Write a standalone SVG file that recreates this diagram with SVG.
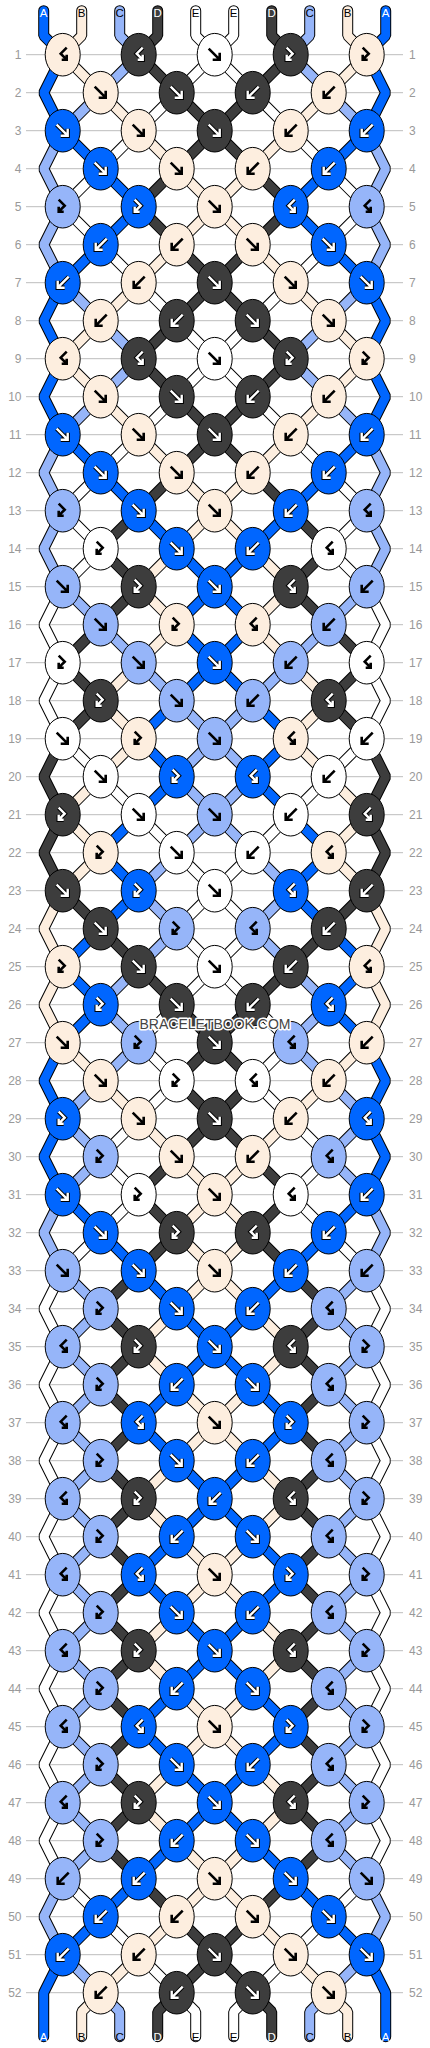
<svg xmlns="http://www.w3.org/2000/svg" xmlns:xlink="http://www.w3.org/1999/xlink" width="430" height="2048" viewBox="0 0 430 2048">
<style>
.A{fill:#0066ff}.B{fill:#fdeedf}.C{fill:#96b5f9}.D{fill:#3d3d3d}.E{fill:#ffffff}
.s{fill:none;stroke-linejoin:bevel;stroke-linecap:round}
.o{stroke:#000;stroke-width:11}
.sA{stroke:#0066ff;stroke-width:9}.sB{stroke:#fdeedf;stroke-width:9}.sC{stroke:#96b5f9;stroke-width:9}.sD{stroke:#3d3d3d;stroke-width:9}.sE{stroke:#ffffff;stroke-width:9}
.ab{fill:none;stroke:#000;stroke-width:2.6}
.ao{fill:none;stroke:#000;stroke-width:4.4}
.aw{fill:none;stroke:#fff;stroke-width:2.4}
.grid{fill:none;stroke:#bdbdbd;stroke-width:1}
.rn{font-family:"Liberation Sans",Arial,sans-serif;font-size:12px;fill:#999}
.sl{font-family:"Liberation Sans",Arial,sans-serif;font-size:11.5px;text-anchor:middle;fill:#000}
.sl .wt{fill:#fff}
.wm{font-family:"Liberation Sans",Arial,sans-serif;font-size:14px;text-anchor:middle;fill:#444;stroke:#fff;stroke-width:3;paint-order:stroke;stroke-linejoin:round}
</style>
<defs>
<ellipse id="e" rx="17.5" ry="21.3" stroke="#000" stroke-width="1"/>
<path id="gf" d="M-6,-6L4.5,4.5M-2,5H5V-2"/>
<path id="gb" d="M6,-6L-4.5,4.5M2,5H-5V-2"/>
<path id="gfb" d="M-4,-7L2,-1L-4,5M-4,0V5H1"/>
<path id="gbf" d="M4,-7L-2,-1L4,5M4,0V5H-1"/>
<g id="kf"><use href="#gf" class="ab"/></g>
<g id="kb"><use href="#gb" class="ab"/></g>
<g id="kfb"><use href="#gfb" class="ab"/></g>
<g id="kbf"><use href="#gbf" class="ab"/></g>
<g id="wf"><use href="#gf" class="ao"/><use href="#gf" class="aw"/></g>
<g id="wb"><use href="#gb" class="ao"/><use href="#gb" class="aw"/></g>
<g id="wfb"><use href="#gfb" class="ao"/><use href="#gfb" class="aw"/></g>
<g id="wbf"><use href="#gbf" class="ao"/><use href="#gbf" class="aw"/></g>
<path id="s0" class="s" d="M0,-6V19L19,38l-19,38 19,38 38,38 38,38 -38,38 -38,38 -19,38 19,38 -19,38 19,38 38,38 38,38 38,38 38,38 38,38 -38,38 -38,38 -38,38 38,38 -38,38 -38,38 38,38 -38,38 -38,38 38,38 -38,38 -19,38 19,38 -19,38 19,38 38,38 38,38 38,38 38,38 38,38 38,38 -38,38 -38,38 -38,38 -38,38 38,38 38,38 38,38 38,38 -38,38 -38,38 -38,38 -38,38 -38,38 -38,38 -19,38V2020"/>
<path id="s1" class="s" d="M38,-6V19L19,38l38,38 38,38 38,38 38,38 38,38 38,38 38,38 38,38 -38,38 -38,38 -38,38 -38,38 -38,38 -38,38 38,38 -38,38 -38,38 38,38 -38,38 -38,38 38,38 -38,38 -19,38 19,38 -19,38 19,38 38,38 38,38 38,38 38,38 38,38 -38,38 -38,38 -38,38 38,38 38,38 38,38 38,38 -38,38 -38,38 -38,38 -38,38 38,38 38,38 38,38 38,38 -38,38 -38,38 -38,38 -38,38 -38,38 -19,19V2020"/>
<path id="s2" class="s" d="M76,-6V19L95,38l-38,38 -38,38 -19,38 19,38 -19,38 19,38 38,38 38,38 -38,38 -38,38 -19,38 19,38 -19,38 19,38 38,38 38,38 38,38 38,38 38,38 -38,38 -38,38 -38,38 38,38 -38,38 -38,38 38,38 -38,38 -38,38 38,38 -38,38 -19,38 19,38 38,38 -38,38 38,38 -38,38 38,38 -38,38 38,38 -38,38 38,38 -38,38 38,38 -38,38 38,38 -38,38 38,38 -38,38 -19,38 19,38 38,38 19,19V2020"/>
<path id="s3" class="s" d="M114,-6V19L95,38l38,38 38,38 38,38 38,38 -38,38 -38,38 -38,38 -38,38 38,38 38,38 38,38 38,38 38,38 -38,38 38,38 38,38 -38,38 38,38 19,38 -19,38 19,38 -19,38 -38,38 -38,38 -38,38 -38,38 -38,38 38,38 38,38 38,38 -38,38 38,38 38,38 -38,38 38,38 -38,38 38,38 -38,38 38,38 -38,38 38,38 -38,38 38,38 -38,38 38,38 -38,38 38,38 -38,38 -38,38 -38,38 -38,38 -19,19V2020"/>
<path id="s4" class="s" d="M152,-6V19L171,38l38,38 38,38 38,38 38,38 -38,38 -38,38 -38,38 -38,38 -38,38 -38,38 -38,38 -38,38 38,38 -38,38 -19,38 19,38 -19,38 19,38 38,38 38,38 38,38 38,38 38,38 -38,38 -38,38 -38,38 38,38 -38,38 -38,38 38,38 -38,38 -38,38 -19,38 19,38 -19,38 19,38 -19,38 19,38 -19,38 19,38 -19,38 19,38 -19,38 19,38 -19,38 19,38 -19,38 19,38 38,38 38,38 38,38 19,19V2020"/>
</defs>
<rect x="0" y="0" width="430" height="2048" fill="#fff"/>
<path class="grid" d="M26,54.7h377m-377,38h377m-377,38h377m-377,38h377m-377,38h377m-377,38h377m-377,38h377m-377,38h377m-377,38h377m-377,38h377m-377,38h377m-377,38h377m-377,38h377m-377,38h377m-377,38h377m-377,38h377m-377,38h377m-377,38h377m-377,38h377m-377,38h377m-377,38h377m-377,38h377m-377,38h377m-377,38h377m-377,38h377m-377,38h377m-377,38h377m-377,38h377m-377,38h377m-377,38h377m-377,38h377m-377,38h377m-377,38h377m-377,38h377m-377,38h377m-377,38h377m-377,38h377m-377,38h377m-377,38h377m-377,38h377m-377,38h377m-377,38h377m-377,38h377m-377,38h377m-377,38h377m-377,38h377m-377,38h377m-377,38h377m-377,38h377m-377,38h377m-377,38h377m-377,38h377"/>
<g id="row-numbers">
<text class="rn" text-anchor="end"><tspan x="21.5" y="59">1</tspan><tspan x="21.5" y="97">2</tspan><tspan x="21.5" y="135">3</tspan><tspan x="21.5" y="173">4</tspan><tspan x="21.5" y="211">5</tspan><tspan x="21.5" y="249">6</tspan><tspan x="21.5" y="287">7</tspan><tspan x="21.5" y="325">8</tspan><tspan x="21.5" y="363">9</tspan><tspan x="21.5" y="401">10</tspan><tspan x="21.5" y="439">11</tspan><tspan x="21.5" y="477">12</tspan><tspan x="21.5" y="515">13</tspan><tspan x="21.5" y="553">14</tspan><tspan x="21.5" y="591">15</tspan><tspan x="21.5" y="629">16</tspan><tspan x="21.5" y="667">17</tspan><tspan x="21.5" y="705">18</tspan><tspan x="21.5" y="743">19</tspan><tspan x="21.5" y="781">20</tspan><tspan x="21.5" y="819">21</tspan><tspan x="21.5" y="857">22</tspan><tspan x="21.5" y="895">23</tspan><tspan x="21.5" y="933">24</tspan><tspan x="21.5" y="971">25</tspan><tspan x="21.5" y="1009">26</tspan><tspan x="21.5" y="1047">27</tspan><tspan x="21.5" y="1085">28</tspan><tspan x="21.5" y="1123">29</tspan><tspan x="21.5" y="1161">30</tspan><tspan x="21.5" y="1199">31</tspan><tspan x="21.5" y="1237">32</tspan><tspan x="21.5" y="1275">33</tspan><tspan x="21.5" y="1313">34</tspan><tspan x="21.5" y="1351">35</tspan><tspan x="21.5" y="1389">36</tspan><tspan x="21.5" y="1427">37</tspan><tspan x="21.5" y="1465">38</tspan><tspan x="21.5" y="1503">39</tspan><tspan x="21.5" y="1541">40</tspan><tspan x="21.5" y="1579">41</tspan><tspan x="21.5" y="1617">42</tspan><tspan x="21.5" y="1655">43</tspan><tspan x="21.5" y="1693">44</tspan><tspan x="21.5" y="1731">45</tspan><tspan x="21.5" y="1769">46</tspan><tspan x="21.5" y="1807">47</tspan><tspan x="21.5" y="1845">48</tspan><tspan x="21.5" y="1883">49</tspan><tspan x="21.5" y="1921">50</tspan><tspan x="21.5" y="1959">51</tspan><tspan x="21.5" y="1997">52</tspan></text>
<text class="rn"><tspan x="409" y="59">1</tspan><tspan x="409" y="97">2</tspan><tspan x="409" y="135">3</tspan><tspan x="409" y="173">4</tspan><tspan x="409" y="211">5</tspan><tspan x="409" y="249">6</tspan><tspan x="409" y="287">7</tspan><tspan x="409" y="325">8</tspan><tspan x="409" y="363">9</tspan><tspan x="409" y="401">10</tspan><tspan x="409" y="439">11</tspan><tspan x="409" y="477">12</tspan><tspan x="409" y="515">13</tspan><tspan x="409" y="553">14</tspan><tspan x="409" y="591">15</tspan><tspan x="409" y="629">16</tspan><tspan x="409" y="667">17</tspan><tspan x="409" y="705">18</tspan><tspan x="409" y="743">19</tspan><tspan x="409" y="781">20</tspan><tspan x="409" y="819">21</tspan><tspan x="409" y="857">22</tspan><tspan x="409" y="895">23</tspan><tspan x="409" y="933">24</tspan><tspan x="409" y="971">25</tspan><tspan x="409" y="1009">26</tspan><tspan x="409" y="1047">27</tspan><tspan x="409" y="1085">28</tspan><tspan x="409" y="1123">29</tspan><tspan x="409" y="1161">30</tspan><tspan x="409" y="1199">31</tspan><tspan x="409" y="1237">32</tspan><tspan x="409" y="1275">33</tspan><tspan x="409" y="1313">34</tspan><tspan x="409" y="1351">35</tspan><tspan x="409" y="1389">36</tspan><tspan x="409" y="1427">37</tspan><tspan x="409" y="1465">38</tspan><tspan x="409" y="1503">39</tspan><tspan x="409" y="1541">40</tspan><tspan x="409" y="1579">41</tspan><tspan x="409" y="1617">42</tspan><tspan x="409" y="1655">43</tspan><tspan x="409" y="1693">44</tspan><tspan x="409" y="1731">45</tspan><tspan x="409" y="1769">46</tspan><tspan x="409" y="1807">47</tspan><tspan x="409" y="1845">48</tspan><tspan x="409" y="1883">49</tspan><tspan x="409" y="1921">50</tspan><tspan x="409" y="1959">51</tspan><tspan x="409" y="1997">52</tspan></text>
</g>
<g transform="translate(43.7,16.7)">
<g id="connectors">
<use href="#s0" class="o"/><use href="#s0" class="sA"/>
<use href="#s1" class="o"/><use href="#s1" class="sB"/>
<use href="#s2" class="o"/><use href="#s2" class="sC"/>
<use href="#s3" class="o"/><use href="#s3" class="sD"/>
<use href="#s4" class="o"/><use href="#s4" class="sE"/>
<g transform="matrix(-1,0,0,1,342,0)">
<use href="#s0" class="o"/><use href="#s0" class="sA"/>
<use href="#s1" class="o"/><use href="#s1" class="sB"/>
<use href="#s2" class="o"/><use href="#s2" class="sC"/>
<use href="#s3" class="o"/><use href="#s3" class="sD"/>
<use href="#s4" class="o"/><use href="#s4" class="sE"/>
</g>
</g>
<g id="knots">
<g id="n1_1" class="B" transform="translate(19,38)"><use href="#e"/><use href="#kbf"/></g>
<g id="n1_2" class="D" transform="translate(95,38)"><use href="#e"/><use href="#wbf"/></g>
<g id="n1_3" class="E" transform="translate(171,38)"><use href="#e"/><use href="#kf"/></g>
<g id="n1_4" class="D" transform="translate(247,38)"><use href="#e"/><use href="#wfb"/></g>
<g id="n1_5" class="B" transform="translate(323,38)"><use href="#e"/><use href="#kfb"/></g>
<g id="n2_1" class="B" transform="translate(57,76)"><use href="#e"/><use href="#kf"/></g>
<g id="n2_2" class="D" transform="translate(133,76)"><use href="#e"/><use href="#wf"/></g>
<g id="n2_3" class="D" transform="translate(209,76)"><use href="#e"/><use href="#wb"/></g>
<g id="n2_4" class="B" transform="translate(285,76)"><use href="#e"/><use href="#kb"/></g>
<g id="n3_1" class="A" transform="translate(19,114)"><use href="#e"/><use href="#wf"/></g>
<g id="n3_2" class="B" transform="translate(95,114)"><use href="#e"/><use href="#kf"/></g>
<g id="n3_3" class="D" transform="translate(171,114)"><use href="#e"/><use href="#wf"/></g>
<g id="n3_4" class="B" transform="translate(247,114)"><use href="#e"/><use href="#kb"/></g>
<g id="n3_5" class="A" transform="translate(323,114)"><use href="#e"/><use href="#wb"/></g>
<g id="n4_1" class="A" transform="translate(57,152)"><use href="#e"/><use href="#wf"/></g>
<g id="n4_2" class="B" transform="translate(133,152)"><use href="#e"/><use href="#kf"/></g>
<g id="n4_3" class="B" transform="translate(209,152)"><use href="#e"/><use href="#kb"/></g>
<g id="n4_4" class="A" transform="translate(285,152)"><use href="#e"/><use href="#wb"/></g>
<g id="n5_1" class="C" transform="translate(19,190)"><use href="#e"/><use href="#kfb"/></g>
<g id="n5_2" class="A" transform="translate(95,190)"><use href="#e"/><use href="#wfb"/></g>
<g id="n5_3" class="B" transform="translate(171,190)"><use href="#e"/><use href="#kf"/></g>
<g id="n5_4" class="A" transform="translate(247,190)"><use href="#e"/><use href="#wbf"/></g>
<g id="n5_5" class="C" transform="translate(323,190)"><use href="#e"/><use href="#kbf"/></g>
<g id="n6_1" class="A" transform="translate(57,228)"><use href="#e"/><use href="#wb"/></g>
<g id="n6_2" class="B" transform="translate(133,228)"><use href="#e"/><use href="#kb"/></g>
<g id="n6_3" class="B" transform="translate(209,228)"><use href="#e"/><use href="#kf"/></g>
<g id="n6_4" class="A" transform="translate(285,228)"><use href="#e"/><use href="#wf"/></g>
<g id="n7_1" class="A" transform="translate(19,266)"><use href="#e"/><use href="#wb"/></g>
<g id="n7_2" class="B" transform="translate(95,266)"><use href="#e"/><use href="#kb"/></g>
<g id="n7_3" class="D" transform="translate(171,266)"><use href="#e"/><use href="#wf"/></g>
<g id="n7_4" class="B" transform="translate(247,266)"><use href="#e"/><use href="#kf"/></g>
<g id="n7_5" class="A" transform="translate(323,266)"><use href="#e"/><use href="#wf"/></g>
<g id="n8_1" class="B" transform="translate(57,304)"><use href="#e"/><use href="#kb"/></g>
<g id="n8_2" class="D" transform="translate(133,304)"><use href="#e"/><use href="#wb"/></g>
<g id="n8_3" class="D" transform="translate(209,304)"><use href="#e"/><use href="#wf"/></g>
<g id="n8_4" class="B" transform="translate(285,304)"><use href="#e"/><use href="#kf"/></g>
<g id="n9_1" class="B" transform="translate(19,342)"><use href="#e"/><use href="#kbf"/></g>
<g id="n9_2" class="D" transform="translate(95,342)"><use href="#e"/><use href="#wbf"/></g>
<g id="n9_3" class="E" transform="translate(171,342)"><use href="#e"/><use href="#kf"/></g>
<g id="n9_4" class="D" transform="translate(247,342)"><use href="#e"/><use href="#wfb"/></g>
<g id="n9_5" class="B" transform="translate(323,342)"><use href="#e"/><use href="#kfb"/></g>
<g id="n10_1" class="B" transform="translate(57,380)"><use href="#e"/><use href="#kf"/></g>
<g id="n10_2" class="D" transform="translate(133,380)"><use href="#e"/><use href="#wf"/></g>
<g id="n10_3" class="D" transform="translate(209,380)"><use href="#e"/><use href="#wb"/></g>
<g id="n10_4" class="B" transform="translate(285,380)"><use href="#e"/><use href="#kb"/></g>
<g id="n11_1" class="A" transform="translate(19,418)"><use href="#e"/><use href="#wf"/></g>
<g id="n11_2" class="B" transform="translate(95,418)"><use href="#e"/><use href="#kf"/></g>
<g id="n11_3" class="D" transform="translate(171,418)"><use href="#e"/><use href="#wf"/></g>
<g id="n11_4" class="B" transform="translate(247,418)"><use href="#e"/><use href="#kb"/></g>
<g id="n11_5" class="A" transform="translate(323,418)"><use href="#e"/><use href="#wb"/></g>
<g id="n12_1" class="A" transform="translate(57,456)"><use href="#e"/><use href="#wf"/></g>
<g id="n12_2" class="B" transform="translate(133,456)"><use href="#e"/><use href="#kf"/></g>
<g id="n12_3" class="B" transform="translate(209,456)"><use href="#e"/><use href="#kb"/></g>
<g id="n12_4" class="A" transform="translate(285,456)"><use href="#e"/><use href="#wb"/></g>
<g id="n13_1" class="C" transform="translate(19,494)"><use href="#e"/><use href="#kfb"/></g>
<g id="n13_2" class="A" transform="translate(95,494)"><use href="#e"/><use href="#wf"/></g>
<g id="n13_3" class="B" transform="translate(171,494)"><use href="#e"/><use href="#kf"/></g>
<g id="n13_4" class="A" transform="translate(247,494)"><use href="#e"/><use href="#wb"/></g>
<g id="n13_5" class="C" transform="translate(323,494)"><use href="#e"/><use href="#kbf"/></g>
<g id="n14_1" class="E" transform="translate(57,532)"><use href="#e"/><use href="#kfb"/></g>
<g id="n14_2" class="A" transform="translate(133,532)"><use href="#e"/><use href="#wf"/></g>
<g id="n14_3" class="A" transform="translate(209,532)"><use href="#e"/><use href="#wb"/></g>
<g id="n14_4" class="E" transform="translate(285,532)"><use href="#e"/><use href="#kbf"/></g>
<g id="n15_1" class="C" transform="translate(19,570)"><use href="#e"/><use href="#kf"/></g>
<g id="n15_2" class="D" transform="translate(95,570)"><use href="#e"/><use href="#wfb"/></g>
<g id="n15_3" class="A" transform="translate(171,570)"><use href="#e"/><use href="#wf"/></g>
<g id="n15_4" class="D" transform="translate(247,570)"><use href="#e"/><use href="#wbf"/></g>
<g id="n15_5" class="C" transform="translate(323,570)"><use href="#e"/><use href="#kb"/></g>
<g id="n16_1" class="C" transform="translate(57,608)"><use href="#e"/><use href="#kf"/></g>
<g id="n16_2" class="B" transform="translate(133,608)"><use href="#e"/><use href="#kfb"/></g>
<g id="n16_3" class="B" transform="translate(209,608)"><use href="#e"/><use href="#kbf"/></g>
<g id="n16_4" class="C" transform="translate(285,608)"><use href="#e"/><use href="#kb"/></g>
<g id="n17_1" class="E" transform="translate(19,646)"><use href="#e"/><use href="#kfb"/></g>
<g id="n17_2" class="C" transform="translate(95,646)"><use href="#e"/><use href="#kf"/></g>
<g id="n17_3" class="A" transform="translate(171,646)"><use href="#e"/><use href="#wf"/></g>
<g id="n17_4" class="C" transform="translate(247,646)"><use href="#e"/><use href="#kb"/></g>
<g id="n17_5" class="E" transform="translate(323,646)"><use href="#e"/><use href="#kbf"/></g>
<g id="n18_1" class="D" transform="translate(57,684)"><use href="#e"/><use href="#wfb"/></g>
<g id="n18_2" class="C" transform="translate(133,684)"><use href="#e"/><use href="#kf"/></g>
<g id="n18_3" class="C" transform="translate(209,684)"><use href="#e"/><use href="#kb"/></g>
<g id="n18_4" class="D" transform="translate(285,684)"><use href="#e"/><use href="#wbf"/></g>
<g id="n19_1" class="E" transform="translate(19,722)"><use href="#e"/><use href="#kf"/></g>
<g id="n19_2" class="B" transform="translate(95,722)"><use href="#e"/><use href="#kfb"/></g>
<g id="n19_3" class="C" transform="translate(171,722)"><use href="#e"/><use href="#kf"/></g>
<g id="n19_4" class="B" transform="translate(247,722)"><use href="#e"/><use href="#kbf"/></g>
<g id="n19_5" class="E" transform="translate(323,722)"><use href="#e"/><use href="#kb"/></g>
<g id="n20_1" class="E" transform="translate(57,760)"><use href="#e"/><use href="#kf"/></g>
<g id="n20_2" class="A" transform="translate(133,760)"><use href="#e"/><use href="#wfb"/></g>
<g id="n20_3" class="A" transform="translate(209,760)"><use href="#e"/><use href="#wbf"/></g>
<g id="n20_4" class="E" transform="translate(285,760)"><use href="#e"/><use href="#kb"/></g>
<g id="n21_1" class="D" transform="translate(19,798)"><use href="#e"/><use href="#wfb"/></g>
<g id="n21_2" class="E" transform="translate(95,798)"><use href="#e"/><use href="#kf"/></g>
<g id="n21_3" class="C" transform="translate(171,798)"><use href="#e"/><use href="#kf"/></g>
<g id="n21_4" class="E" transform="translate(247,798)"><use href="#e"/><use href="#kb"/></g>
<g id="n21_5" class="D" transform="translate(323,798)"><use href="#e"/><use href="#wbf"/></g>
<g id="n22_1" class="B" transform="translate(57,836)"><use href="#e"/><use href="#kfb"/></g>
<g id="n22_2" class="E" transform="translate(133,836)"><use href="#e"/><use href="#kf"/></g>
<g id="n22_3" class="E" transform="translate(209,836)"><use href="#e"/><use href="#kb"/></g>
<g id="n22_4" class="B" transform="translate(285,836)"><use href="#e"/><use href="#kbf"/></g>
<g id="n23_1" class="D" transform="translate(19,874)"><use href="#e"/><use href="#wf"/></g>
<g id="n23_2" class="A" transform="translate(95,874)"><use href="#e"/><use href="#wfb"/></g>
<g id="n23_3" class="E" transform="translate(171,874)"><use href="#e"/><use href="#kf"/></g>
<g id="n23_4" class="A" transform="translate(247,874)"><use href="#e"/><use href="#wbf"/></g>
<g id="n23_5" class="D" transform="translate(323,874)"><use href="#e"/><use href="#wb"/></g>
<g id="n24_1" class="D" transform="translate(57,912)"><use href="#e"/><use href="#wf"/></g>
<g id="n24_2" class="C" transform="translate(133,912)"><use href="#e"/><use href="#kfb"/></g>
<g id="n24_3" class="C" transform="translate(209,912)"><use href="#e"/><use href="#kbf"/></g>
<g id="n24_4" class="D" transform="translate(285,912)"><use href="#e"/><use href="#wb"/></g>
<g id="n25_1" class="B" transform="translate(19,950)"><use href="#e"/><use href="#kfb"/></g>
<g id="n25_2" class="D" transform="translate(95,950)"><use href="#e"/><use href="#wf"/></g>
<g id="n25_3" class="E" transform="translate(171,950)"><use href="#e"/><use href="#kf"/></g>
<g id="n25_4" class="D" transform="translate(247,950)"><use href="#e"/><use href="#wb"/></g>
<g id="n25_5" class="B" transform="translate(323,950)"><use href="#e"/><use href="#kbf"/></g>
<g id="n26_1" class="A" transform="translate(57,988)"><use href="#e"/><use href="#wfb"/></g>
<g id="n26_2" class="D" transform="translate(133,988)"><use href="#e"/><use href="#wf"/></g>
<g id="n26_3" class="D" transform="translate(209,988)"><use href="#e"/><use href="#wb"/></g>
<g id="n26_4" class="A" transform="translate(285,988)"><use href="#e"/><use href="#wbf"/></g>
<g id="n27_1" class="B" transform="translate(19,1026)"><use href="#e"/><use href="#kf"/></g>
<g id="n27_2" class="C" transform="translate(95,1026)"><use href="#e"/><use href="#kfb"/></g>
<g id="n27_3" class="D" transform="translate(171,1026)"><use href="#e"/><use href="#wf"/></g>
<g id="n27_4" class="C" transform="translate(247,1026)"><use href="#e"/><use href="#kbf"/></g>
<g id="n27_5" class="B" transform="translate(323,1026)"><use href="#e"/><use href="#kb"/></g>
<g id="n28_1" class="B" transform="translate(57,1064)"><use href="#e"/><use href="#kf"/></g>
<g id="n28_2" class="E" transform="translate(133,1064)"><use href="#e"/><use href="#kfb"/></g>
<g id="n28_3" class="E" transform="translate(209,1064)"><use href="#e"/><use href="#kbf"/></g>
<g id="n28_4" class="B" transform="translate(285,1064)"><use href="#e"/><use href="#kb"/></g>
<g id="n29_1" class="A" transform="translate(19,1102)"><use href="#e"/><use href="#wfb"/></g>
<g id="n29_2" class="B" transform="translate(95,1102)"><use href="#e"/><use href="#kf"/></g>
<g id="n29_3" class="D" transform="translate(171,1102)"><use href="#e"/><use href="#wf"/></g>
<g id="n29_4" class="B" transform="translate(247,1102)"><use href="#e"/><use href="#kb"/></g>
<g id="n29_5" class="A" transform="translate(323,1102)"><use href="#e"/><use href="#wbf"/></g>
<g id="n30_1" class="C" transform="translate(57,1140)"><use href="#e"/><use href="#kfb"/></g>
<g id="n30_2" class="B" transform="translate(133,1140)"><use href="#e"/><use href="#kf"/></g>
<g id="n30_3" class="B" transform="translate(209,1140)"><use href="#e"/><use href="#kb"/></g>
<g id="n30_4" class="C" transform="translate(285,1140)"><use href="#e"/><use href="#kbf"/></g>
<g id="n31_1" class="A" transform="translate(19,1178)"><use href="#e"/><use href="#wf"/></g>
<g id="n31_2" class="E" transform="translate(95,1178)"><use href="#e"/><use href="#kfb"/></g>
<g id="n31_3" class="B" transform="translate(171,1178)"><use href="#e"/><use href="#kf"/></g>
<g id="n31_4" class="E" transform="translate(247,1178)"><use href="#e"/><use href="#kbf"/></g>
<g id="n31_5" class="A" transform="translate(323,1178)"><use href="#e"/><use href="#wb"/></g>
<g id="n32_1" class="A" transform="translate(57,1216)"><use href="#e"/><use href="#wf"/></g>
<g id="n32_2" class="D" transform="translate(133,1216)"><use href="#e"/><use href="#wfb"/></g>
<g id="n32_3" class="D" transform="translate(209,1216)"><use href="#e"/><use href="#wbf"/></g>
<g id="n32_4" class="A" transform="translate(285,1216)"><use href="#e"/><use href="#wb"/></g>
<g id="n33_1" class="C" transform="translate(19,1254)"><use href="#e"/><use href="#kf"/></g>
<g id="n33_2" class="A" transform="translate(95,1254)"><use href="#e"/><use href="#wf"/></g>
<g id="n33_3" class="B" transform="translate(171,1254)"><use href="#e"/><use href="#kf"/></g>
<g id="n33_4" class="A" transform="translate(247,1254)"><use href="#e"/><use href="#wb"/></g>
<g id="n33_5" class="C" transform="translate(323,1254)"><use href="#e"/><use href="#kb"/></g>
<g id="n34_1" class="C" transform="translate(57,1292)"><use href="#e"/><use href="#kfb"/></g>
<g id="n34_2" class="A" transform="translate(133,1292)"><use href="#e"/><use href="#wf"/></g>
<g id="n34_3" class="A" transform="translate(209,1292)"><use href="#e"/><use href="#wb"/></g>
<g id="n34_4" class="C" transform="translate(285,1292)"><use href="#e"/><use href="#kbf"/></g>
<g id="n35_1" class="C" transform="translate(19,1330)"><use href="#e"/><use href="#kbf"/></g>
<g id="n35_2" class="D" transform="translate(95,1330)"><use href="#e"/><use href="#wfb"/></g>
<g id="n35_3" class="A" transform="translate(171,1330)"><use href="#e"/><use href="#wf"/></g>
<g id="n35_4" class="D" transform="translate(247,1330)"><use href="#e"/><use href="#wbf"/></g>
<g id="n35_5" class="C" transform="translate(323,1330)"><use href="#e"/><use href="#kfb"/></g>
<g id="n36_1" class="C" transform="translate(57,1368)"><use href="#e"/><use href="#kfb"/></g>
<g id="n36_2" class="A" transform="translate(133,1368)"><use href="#e"/><use href="#wb"/></g>
<g id="n36_3" class="A" transform="translate(209,1368)"><use href="#e"/><use href="#wf"/></g>
<g id="n36_4" class="C" transform="translate(285,1368)"><use href="#e"/><use href="#kbf"/></g>
<g id="n37_1" class="C" transform="translate(19,1406)"><use href="#e"/><use href="#kbf"/></g>
<g id="n37_2" class="A" transform="translate(95,1406)"><use href="#e"/><use href="#wbf"/></g>
<g id="n37_3" class="B" transform="translate(171,1406)"><use href="#e"/><use href="#kf"/></g>
<g id="n37_4" class="A" transform="translate(247,1406)"><use href="#e"/><use href="#wfb"/></g>
<g id="n37_5" class="C" transform="translate(323,1406)"><use href="#e"/><use href="#kfb"/></g>
<g id="n38_1" class="C" transform="translate(57,1444)"><use href="#e"/><use href="#kfb"/></g>
<g id="n38_2" class="A" transform="translate(133,1444)"><use href="#e"/><use href="#wf"/></g>
<g id="n38_3" class="A" transform="translate(209,1444)"><use href="#e"/><use href="#wb"/></g>
<g id="n38_4" class="C" transform="translate(285,1444)"><use href="#e"/><use href="#kbf"/></g>
<g id="n39_1" class="C" transform="translate(19,1482)"><use href="#e"/><use href="#kbf"/></g>
<g id="n39_2" class="D" transform="translate(95,1482)"><use href="#e"/><use href="#wfb"/></g>
<g id="n39_3" class="A" transform="translate(171,1482)"><use href="#e"/><use href="#wb"/></g>
<g id="n39_4" class="D" transform="translate(247,1482)"><use href="#e"/><use href="#wbf"/></g>
<g id="n39_5" class="C" transform="translate(323,1482)"><use href="#e"/><use href="#kfb"/></g>
<g id="n40_1" class="C" transform="translate(57,1520)"><use href="#e"/><use href="#kfb"/></g>
<g id="n40_2" class="A" transform="translate(133,1520)"><use href="#e"/><use href="#wb"/></g>
<g id="n40_3" class="A" transform="translate(209,1520)"><use href="#e"/><use href="#wf"/></g>
<g id="n40_4" class="C" transform="translate(285,1520)"><use href="#e"/><use href="#kbf"/></g>
<g id="n41_1" class="C" transform="translate(19,1558)"><use href="#e"/><use href="#kbf"/></g>
<g id="n41_2" class="A" transform="translate(95,1558)"><use href="#e"/><use href="#wbf"/></g>
<g id="n41_3" class="B" transform="translate(171,1558)"><use href="#e"/><use href="#kf"/></g>
<g id="n41_4" class="A" transform="translate(247,1558)"><use href="#e"/><use href="#wfb"/></g>
<g id="n41_5" class="C" transform="translate(323,1558)"><use href="#e"/><use href="#kfb"/></g>
<g id="n42_1" class="C" transform="translate(57,1596)"><use href="#e"/><use href="#kfb"/></g>
<g id="n42_2" class="A" transform="translate(133,1596)"><use href="#e"/><use href="#wf"/></g>
<g id="n42_3" class="A" transform="translate(209,1596)"><use href="#e"/><use href="#wb"/></g>
<g id="n42_4" class="C" transform="translate(285,1596)"><use href="#e"/><use href="#kbf"/></g>
<g id="n43_1" class="C" transform="translate(19,1634)"><use href="#e"/><use href="#kbf"/></g>
<g id="n43_2" class="D" transform="translate(95,1634)"><use href="#e"/><use href="#wfb"/></g>
<g id="n43_3" class="A" transform="translate(171,1634)"><use href="#e"/><use href="#wf"/></g>
<g id="n43_4" class="D" transform="translate(247,1634)"><use href="#e"/><use href="#wbf"/></g>
<g id="n43_5" class="C" transform="translate(323,1634)"><use href="#e"/><use href="#kfb"/></g>
<g id="n44_1" class="C" transform="translate(57,1672)"><use href="#e"/><use href="#kfb"/></g>
<g id="n44_2" class="A" transform="translate(133,1672)"><use href="#e"/><use href="#wb"/></g>
<g id="n44_3" class="A" transform="translate(209,1672)"><use href="#e"/><use href="#wf"/></g>
<g id="n44_4" class="C" transform="translate(285,1672)"><use href="#e"/><use href="#kbf"/></g>
<g id="n45_1" class="C" transform="translate(19,1710)"><use href="#e"/><use href="#kbf"/></g>
<g id="n45_2" class="A" transform="translate(95,1710)"><use href="#e"/><use href="#wbf"/></g>
<g id="n45_3" class="B" transform="translate(171,1710)"><use href="#e"/><use href="#kf"/></g>
<g id="n45_4" class="A" transform="translate(247,1710)"><use href="#e"/><use href="#wfb"/></g>
<g id="n45_5" class="C" transform="translate(323,1710)"><use href="#e"/><use href="#kfb"/></g>
<g id="n46_1" class="C" transform="translate(57,1748)"><use href="#e"/><use href="#kfb"/></g>
<g id="n46_2" class="A" transform="translate(133,1748)"><use href="#e"/><use href="#wf"/></g>
<g id="n46_3" class="A" transform="translate(209,1748)"><use href="#e"/><use href="#wb"/></g>
<g id="n46_4" class="C" transform="translate(285,1748)"><use href="#e"/><use href="#kbf"/></g>
<g id="n47_1" class="C" transform="translate(19,1786)"><use href="#e"/><use href="#kbf"/></g>
<g id="n47_2" class="D" transform="translate(95,1786)"><use href="#e"/><use href="#wfb"/></g>
<g id="n47_3" class="A" transform="translate(171,1786)"><use href="#e"/><use href="#wf"/></g>
<g id="n47_4" class="D" transform="translate(247,1786)"><use href="#e"/><use href="#wbf"/></g>
<g id="n47_5" class="C" transform="translate(323,1786)"><use href="#e"/><use href="#kfb"/></g>
<g id="n48_1" class="C" transform="translate(57,1824)"><use href="#e"/><use href="#kfb"/></g>
<g id="n48_2" class="A" transform="translate(133,1824)"><use href="#e"/><use href="#wb"/></g>
<g id="n48_3" class="A" transform="translate(209,1824)"><use href="#e"/><use href="#wf"/></g>
<g id="n48_4" class="C" transform="translate(285,1824)"><use href="#e"/><use href="#kbf"/></g>
<g id="n49_1" class="C" transform="translate(19,1862)"><use href="#e"/><use href="#kb"/></g>
<g id="n49_2" class="A" transform="translate(95,1862)"><use href="#e"/><use href="#wb"/></g>
<g id="n49_3" class="B" transform="translate(171,1862)"><use href="#e"/><use href="#kf"/></g>
<g id="n49_4" class="A" transform="translate(247,1862)"><use href="#e"/><use href="#wf"/></g>
<g id="n49_5" class="C" transform="translate(323,1862)"><use href="#e"/><use href="#kf"/></g>
<g id="n50_1" class="A" transform="translate(57,1900)"><use href="#e"/><use href="#wb"/></g>
<g id="n50_2" class="B" transform="translate(133,1900)"><use href="#e"/><use href="#kb"/></g>
<g id="n50_3" class="B" transform="translate(209,1900)"><use href="#e"/><use href="#kf"/></g>
<g id="n50_4" class="A" transform="translate(285,1900)"><use href="#e"/><use href="#wf"/></g>
<g id="n51_1" class="A" transform="translate(19,1938)"><use href="#e"/><use href="#wb"/></g>
<g id="n51_2" class="B" transform="translate(95,1938)"><use href="#e"/><use href="#kb"/></g>
<g id="n51_3" class="D" transform="translate(171,1938)"><use href="#e"/><use href="#wf"/></g>
<g id="n51_4" class="B" transform="translate(247,1938)"><use href="#e"/><use href="#kf"/></g>
<g id="n51_5" class="A" transform="translate(323,1938)"><use href="#e"/><use href="#wf"/></g>
<g id="n52_1" class="B" transform="translate(57,1976)"><use href="#e"/><use href="#kb"/></g>
<g id="n52_2" class="D" transform="translate(133,1976)"><use href="#e"/><use href="#wb"/></g>
<g id="n52_3" class="D" transform="translate(209,1976)"><use href="#e"/><use href="#wf"/></g>
<g id="n52_4" class="B" transform="translate(285,1976)"><use href="#e"/><use href="#kf"/></g>
</g>
</g>
<g id="string-labels" class="sl">
<text x="43.7" y="16.7" class="wt">A</text><text x="81.7" y="16.7">B</text><text x="119.7" y="16.7">C</text><text x="157.7" y="16.7" class="wt">D</text><text x="195.7" y="16.7">E</text><text x="233.7" y="16.7">E</text><text x="271.7" y="16.7" class="wt">D</text><text x="309.7" y="16.7">C</text><text x="347.7" y="16.7">B</text><text x="385.7" y="16.7" class="wt">A</text>
<text x="43.7" y="2040.5" class="wt">A</text><text x="81.7" y="2040.5">B</text><text x="119.7" y="2040.5">C</text><text x="157.7" y="2040.5" class="wt">D</text><text x="195.7" y="2040.5">E</text><text x="233.7" y="2040.5">E</text><text x="271.7" y="2040.5" class="wt">D</text><text x="309.7" y="2040.5">C</text><text x="347.7" y="2040.5">B</text><text x="385.7" y="2040.5" class="wt">A</text>
</g>
<text class="wm" x="215" y="1029">BRACELETBOOK.COM</text>
</svg>
